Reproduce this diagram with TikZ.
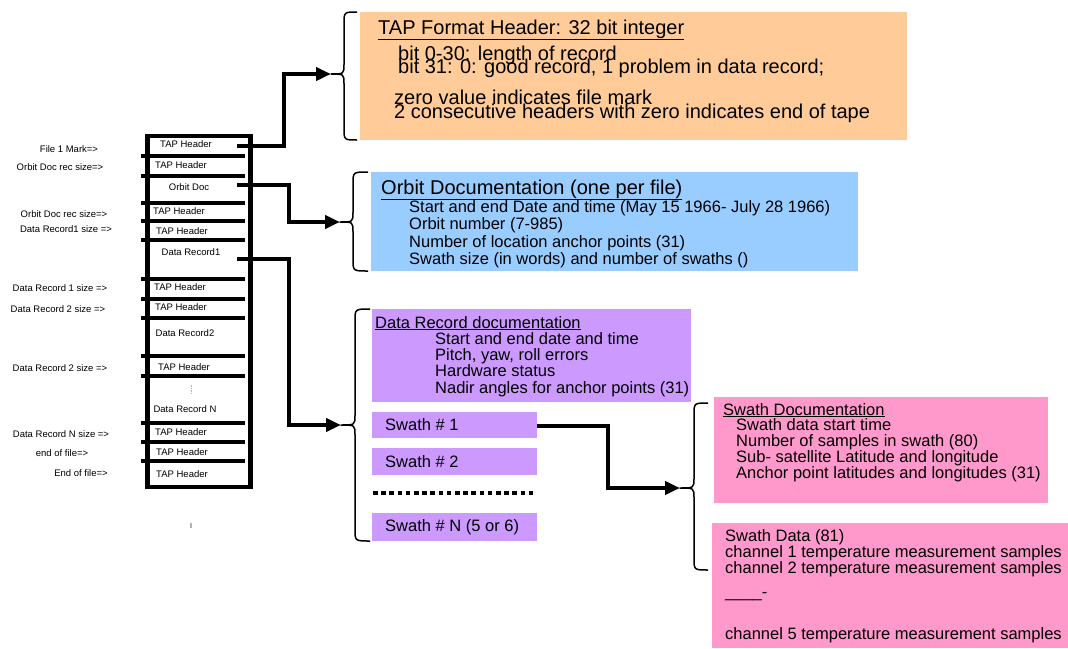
\documentclass[tikz,border=0pt]{standalone}
\usepackage{fontspec}
\setmainfont{Liberation Sans}
\usetikzlibrary{arrows.meta}
\definecolor{cOrange}{HTML}{FFCC99}
\definecolor{cBlue}{HTML}{99CCFF}
\definecolor{cPurple}{HTML}{CC99FF}
\definecolor{cPink}{HTML}{FF99CC}
\tikzset{
  fbig/.style={font=\fontsize{20}{22}\selectfont},
  fbody/.style={font=\fontsize{16.5}{18}\selectfont},
  fsmall/.style={font=\fontsize{9.5}{11}\selectfont},
  txt/.style={anchor=base west, inner sep=0pt},
  lbl/.style={fsmall, anchor=center, inner sep=0pt},
  box/.style={draw=none, inner sep=0pt, anchor=center},
  colborder/.style={line width=4.6pt},
  bar/.style={line width=4.4pt},
  conn/.style={line width=4pt, -{Triangle[length=15pt,width=13pt]}},
  stub/.style={line width=4pt},
  bracestyle/.style={line width=1.5pt, line join=round},
}
% brace: hook x, vertical x, tip x, top y, mid y, bottom y
\newcommand\cbrace[6]{%
  \draw[bracestyle] (#1,#4) .. controls (#2,#4) .. (#2,#4+12) -- (#2,#5-10)
     .. controls (#2,#5) .. (#3,#5) .. controls (#2,#5) .. (#2,#5+10)
     -- (#2,#6-12) .. controls (#2,#6) .. (#1,#6);}
\begin{document}
\begin{tikzpicture}[x=1pt,y=-1pt]
\useasboundingbox (0,0) rectangle (1068,648);
\fill[white] (0,0) rectangle (1068,648);

% ---------- coloured boxes ----------
\node[box, fill=cOrange, minimum width=547pt, minimum height=128pt] (orange) at (633.5,76) {};
\node[box, fill=cBlue, minimum width=487pt, minimum height=99pt] (blue) at (614.5,221.5) {};
\node[box, fill=cPurple, minimum width=319pt, minimum height=93pt] (drdoc) at (531.5,355.5) {};
\node[box, fill=cPurple, minimum width=165pt, minimum height=26pt] (sw1) at (454.5,425) {};
\node[box, fill=cPurple, minimum width=165pt, minimum height=27pt] (sw2) at (454.5,461.5) {};
\node[box, fill=cPurple, minimum width=165pt, minimum height=28pt] (swN) at (454.5,527) {};
\node[box, fill=cPink, minimum width=334pt, minimum height=106pt] (swdoc) at (881,450) {};
\node[box, fill=cPink, minimum width=356pt, minimum height=125pt] (swdata) at (890,585.5) {};

% ---------- texts in boxes ----------
\node[txt, fbig] (t1) at (378,34) {\underline{TAP Format Header: 32 bit integer}};
\node[txt, fbig] (t2) at (398,60) {bit 0-30: length of record};
\node[txt, fbig] (t3) at (398,73) {bit 31: 0: good record, 1 problem in data record;};
\node[txt, fbig] (t4) at (394,104) {zero value indicates file mark};
\node[txt, fbig] (t5) at (394,118) {2 consecutive headers with zero indicates end of tape};

\node[txt, fbig] (b1) at (381,194) {\underline{Orbit Documentation (one per file)}};
\node[txt, fbody] (b2) at (409,212) {Start and end Date and time (May 15 1966- July 28 1966)};
\node[txt, fbody] (b3) at (409,229) {Orbit number (7-985)};
\node[txt, fbody] (b4) at (409,247) {Number of location anchor points (31)};
\node[txt, fbody] (b5) at (409,264) {Swath size (in words) and number of swaths ()};

\node[txt, fbody] (p1) at (375,328) {\underline{Data Record documentation}};
\node[txt, fbody] (p2) at (435,344) {Start and end date and time};
\node[txt, fbody] (p3) at (435,360) {Pitch, yaw, roll errors};
\node[txt, fbody] (p4) at (435,376) {Hardware status};
\node[txt, fbody] (p5) at (435,393) {Nadir angles for anchor points (31)};
\node[txt, fbody] (s1t) at (385,430) {Swath \# 1};
\node[txt, fbody] (s2t) at (385,467) {Swath \# 2};
\node[txt, fbody] (sNt) at (385,531) {Swath \# N (5 or 6)};
\draw[line width=4pt, dash pattern=on 4.5pt off 3.7pt] (373,493) -- (537,493);

\node[txt, fbody] (k1) at (723,415) {\underline{Swath Documentation}};
\node[txt, fbody] (k2) at (736,430) {Swath data start time};
\node[txt, fbody] (k3) at (736,446) {Number of samples in swath (80)};
\node[txt, fbody] (k4) at (736,462) {Sub- satellite Latitude and longitude};
\node[txt, fbody] (k5) at (736,478) {Anchor point latitudes and longitudes (31)};

\node[txt, fbody] (d1) at (725,541) {Swath Data (81)};
\node[txt, fbody] (d2) at (725,557) {channel 1 temperature measurement samples};
\node[txt, fbody] (d3) at (725,573) {channel 2 temperature measurement samples};
\node[txt, fbody] (d4) at (725,597) {\_\_\_\_-};
\node[txt, fbody] (d5) at (725,639) {channel 5 temperature measurement samples};

% ---------- braces ----------
\cbrace{357}{344}{331}{12}{74}{140}
\cbrace{368}{353}{340}{172}{222}{271}
\cbrace{370}{355}{341}{309}{425}{541}
\cbrace{708}{694}{680}{403}{488}{570}
\coordinate (otip) at (331,74);
\coordinate (btip) at (340,222);
\coordinate (ptip) at (341,425);
\coordinate (ktip) at (680,488);

% ---------- file column ----------
\draw[colborder] (147.5,136) rectangle (250.5,487);
\foreach \yy in {156,176,203,221,240,279,299,318,356,376,423,442,461}
  \draw[bar] (141,\yy) -- (245,\yy);

\node[lbl] (c1) at (186,144) {TAP Header};
\node[lbl] (c2) at (181,165) {TAP Header};
\node[lbl] (c3) at (189,187) {Orbit Doc};
\node[lbl] (c4) at (179,211) {TAP Header};
\node[lbl] (c5) at (182,231) {TAP Header};
\node[lbl] (c6) at (191,252) {Data Record1};
\node[lbl] (c7) at (180,287) {TAP Header};
\node[lbl] (c8) at (181,307) {TAP Header};
\node[lbl] (c9) at (185,333) {Data Record2};
\node[lbl] (c10) at (184,367) {TAP Header};
\node[lbl] (c11) at (185,409) {Data Record N};
\node[lbl] (c12) at (181,432) {TAP Header};
\node[lbl] (c13) at (182,452) {TAP Header};
\node[lbl] (c14) at (182,474) {TAP Header};
\draw[gray!60, line width=1pt, dash pattern=on 1.5pt off 1pt] (191,385) -- (191,394);
\draw[gray!60, line width=1.2pt] (191,523) -- (191,528);

% ---------- left labels ----------
\node[lbl] (l1) at (69,149) {File 1 Mark=>};
\node[lbl] (l2) at (60,167) {Orbit Doc rec size=>};
\node[lbl] (l3) at (64,214) {Orbit Doc rec size=>};
\node[lbl] (l4) at (66,229) {Data Record1 size =>};
\node[lbl] (l5) at (60,288) {Data Record 1 size =>};
\node[lbl] (l6) at (58,309) {Data Record 2 size =>};
\node[lbl] (l7) at (60,368) {Data Record 2 size =>};
\node[lbl] (l8) at (61,434) {Data Record N size =>};
\node[lbl] (l9) at (62,453) {end of file=>};
\node[lbl] (l10) at (81,473) {End of file=>};

% ---------- connectors ----------
\coordinate (st1) at (237,146);
\coordinate (st2) at (237,185);
\coordinate (st3) at (237,259);
\draw[conn] (st1) -- ++(47,0) |- (otip);
\draw[conn] (st2) -- ++(52,0) |- (btip);
\draw[conn] (st3) -- ++(52,0) |- (ptip);
\draw[conn] ([yshift=-1pt]sw1.east) -- ++(71,0) |- (ktip);
\end{tikzpicture}
\end{document}
